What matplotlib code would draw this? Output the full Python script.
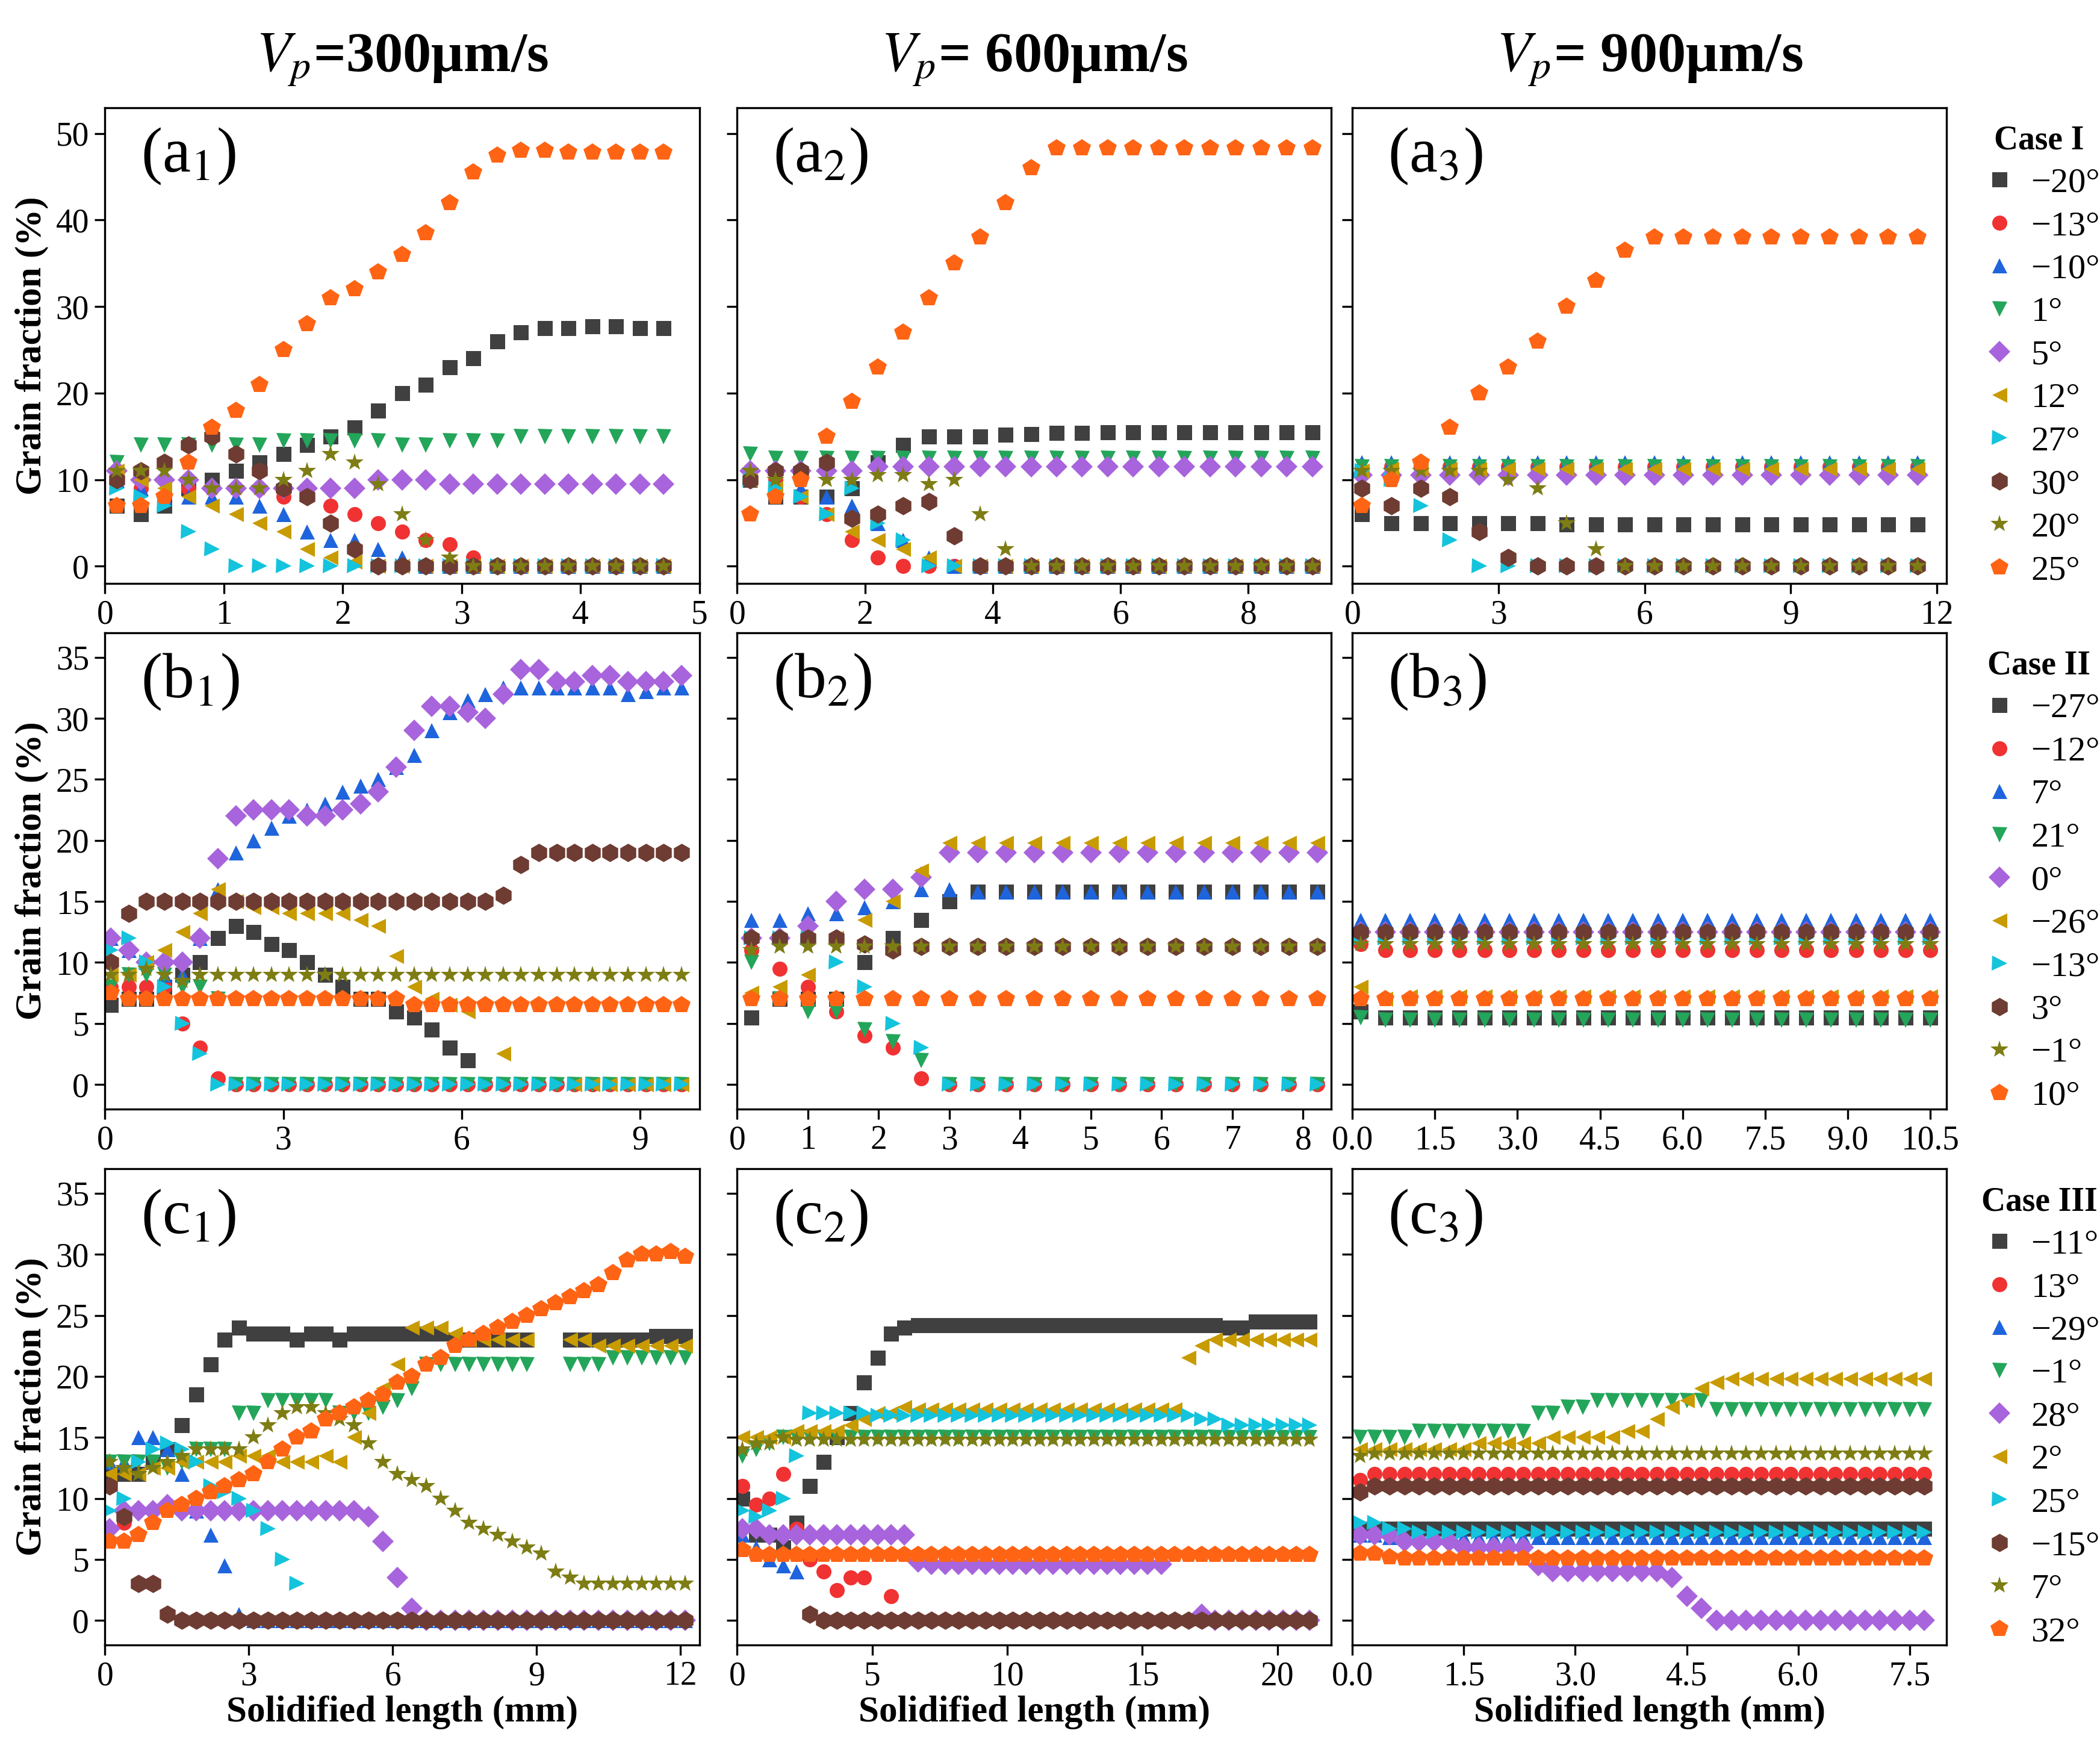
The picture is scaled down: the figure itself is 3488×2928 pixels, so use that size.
import numpy as np
import matplotlib
matplotlib.use("Agg")
from matplotlib import pyplot as plt

plt.rcParams['font.family'] = ['Liberation Serif', 'DejaVu Serif']
plt.rcParams['mathtext.fontset'] = 'stix'

N = np.nan
markers = ['s', 'o', '^', 'v', 'D', '<', '>', 'h', '*', 'p']
colors = ['#404040', '#f03232', '#1e64dc', '#23a55a', '#a864dc',
          '#c89b00', '#14c3dc', '#6e3c32', '#7d7d14', '#ff6414']

def pad(vals, n, fill=0.0):
    vals = list(vals)
    return vals + [fill] * (n - len(vals))

# ---------------- Case I ----------------
case1_labels = ['−20°', '−13°', '−10°', '1°', '5°', '12°', '27°', '30°', '20°', '25°']
x_a1 = np.arange(0.1, 4.75, 0.2)
n = len(x_a1)
y_a1 = [
    pad([7, 6, 7, 9, 10, 11, 12, 13, 14, 15, 16, 18, 20, 21, 23, 24, 26, 27, 27.5, 27.5, 27.7, 27.7, 27.5, 27.5], n),
    pad([10, 9, 8, 9, 9, 9, 9, 8, 8, 7, 6, 5, 4, 3, 2.5, 1], n),
    pad([10, 9, 8, 8, 8, 8, 7, 6, 4, 3, 3, 2, 1], n),
    pad([12, 14, 14, 14, 14, 14, 14, 14.5, 14.5, 14.5, 14.5, 14.5, 14, 14, 14.5, 14.5, 14.5, 15, 15, 15, 15, 15, 15, 15], n),
    pad([11, 10, 10, 10, 9, 9, 9, 9, 9, 9, 9, 10, 10, 10, 9.5, 9.5], n, 9.5),
    pad([11, 10, 9, 8, 7, 6, 5, 4, 2, 1, 0.5], n),
    pad([9, 8, 7, 4, 2], n),
    pad([10, 11, 12, 14, 15, 13, 11, 9, 8, 5, 2], n),
    pad([11, 11, 11, 10, 9, 9, 9, 10, 11, 13, 12, 9.5, 6, 3, 1], n),
    pad([7, 7, 8, 12, 16, 18, 21, 25, 28, 31, 32, 34, 36, 38.5, 42, 45.5, 47.5, 48, 48], n, 47.8),
]

x_a2 = np.arange(0.2, 9.05, 0.4)
n = len(x_a2)
y_a2 = [
    pad([10, 8, 8, 8, 9, 12, 14, 15, 15, 15, 15.2, 15.3, 15.4, 15.4], n, 15.5),
    pad([11, 10, 8, 6, 3, 1], n),
    pad([11, 10, 9, 8, 7, 5, 3, 1], n),
    pad([13], n, 12.5),
    pad([11, 11, 11, 11, 11], n, 11.5),
    pad([10, 9, 8, 6, 4, 3, 2, 1], n),
    pad([10, 9, 8, 6, 9, 5, 3], n),
    pad([10, 11, 11, 12, 5.5, 6, 7, 7.5, 3.5], n),
    pad([11, 10, 10, 10, 10, 10.5, 10.5, 9.5, 10, 6, 2], n),
    pad([6, 8, 10, 15, 19, 23, 27, 31, 35, 38, 42, 46], n, 48.3),
]

x_a3 = np.arange(0.2, 12.0, 0.6)
n = len(x_a3)
y_a3 = [
    pad([6, 5, 5, 5, 5, 5, 5], n, 4.8),
    pad([11], n, 11.5),
    pad([12], n, 12),
    pad([11.5], n, 11.5),
    pad([10.5], n, 10.5),
    pad([11], n, 11.2),
    pad([11, 10, 7, 3], n),
    pad([9, 7, 9, 8, 4, 1], n),
    pad([11, 11, 11, 11, 11, 10, 9, 5, 2], n),
    pad([7, 10, 12, 16, 20, 23, 26, 30, 33, 36.5], n, 38),
]

# ---------------- Case II ----------------
case2_labels = ['−27°', '−12°', '7°', '21°', '0°', '−26°', '−13°', '3°', '−1°', '10°']
x_b1 = np.arange(0.1, 9.8, 0.3)
n = len(x_b1)
y_b1 = [
    pad([6.5, 7, 7, 8, 9, 10, 12, 13, 12.5, 11.5, 11, 10, 9, 8, 7, 7, 6, 5.5, 4.5, 3, 2], n, N),
    pad([8, 8, 8, 8, 5, 3, 0.5], n),
    pad([12, 11, 10, 9, 9, 12, 16, 19, 20, 21, 22, 22.5, 23, 24, 24.5, 25, 26, 27, 29, 30.5, 31.5, 32, 32.5,
         32.5, 32.5, 32.5, 32.5, 32.5, 32.5, 32, 32.2, 32.5], n, 32.5),
    pad([8, 9, 9, 9, 8, 8, 7], n),
    pad([12, 11, 10, 10, 10, 12, 18.5, 22, 22.5, 22.5, 22.5, 22, 22, 22.5, 23, 24, 26, 29, 31, 31, 30.5, 30,
         32, 34, 34, 33, 33, 33.5, 33.5, 33, 33, 33], n, 33.5),
    pad([9, 9, 10, 11, 12.5, 14, 16, 15, 14.5, 14.5, 14, 14, 14, 14, 13.5, 13, 10.5, 8, 7, 6.5, 6, N, 2.5, N, N, N], n, 0),
    pad([11, 12, 10, 8, 5, 2.5], n),
    pad([10, 14, 15, 15, 15, 15, 15, 15, 15, 15, 15, 15, 15, 15, 15, 15, 15, 15, 15, 15, 15, 15, 15.5, 18], n, 19),
    pad([9, 9, 9.5, 9, 8.5], n, 9),
    pad([7.5] + [7] * 16, n, 6.5),
]

x_b2 = np.arange(0.2, 8.25, 0.4)
n = len(x_b2)
y_b2 = [
    pad([5.5, 7, 7, 7, 10, 12, 13.5, 15], n, 15.8),
    pad([11, 9.5, 8, 6, 4, 3, 0.5], n),
    pad([13.5, 13.5, 14, 14, 14.5, 15, 16, 16], n, 15.8),
    pad([10, 7, 6, 6, 4.5, 3.5, 2], n),
    pad([12, 12, 13, 15, 16, 16, 17], n, 19),
    pad([7.5, 8, 9, 12, 13.5, 15, 17.5], n, 19.8),
    pad([12, 12, 12, 10, 8, 5, 3], n),
    pad([12, 12, 12, 12, 11.5, 11], n, 11.3),
    pad([11], n, 11.3),
    pad([7], n, 7),
]

x_b3 = np.arange(0.15, 10.6, 0.45)
n = len(x_b3)
y_b3 = [
    pad([6], n, 5.5), pad([11.5], n, 11), pad([13.5], n, 13.5), pad([5.5], n, 5.3),
    pad([12.5], n, 12.5), pad([8, 7], n, 7.2), pad([12], n, 12), pad([12.5], n, 12.5),
    pad([11.5], n, 11.5), pad([7], n, 7),
]

# ---------------- Case III ----------------
case3_labels = ['−11°', '13°', '−29°', '−1°', '28°', '2°', '25°', '−15°', '7°', '32°']
x_c1 = np.arange(0.1, 12.2, 0.3)
n = len(x_c1)
y_c1 = [
    pad([12, 12, 12, 13, 14, 16, 18.5, 21, 23, 24, 23.5, 23.5, 23.5, 23, 23.5, 23.5, 23, 23.5, 23.5, 23.5,
         23.5, 23.5, 23.5, 23.5, 23, 23, 23, 23, 23, 23, N, N, 23, 23, 23, 23, 23, 23], n, 23.3),
    pad([11, 8, 3, 3, 0.5], n),
    pad([13, 13, 15, 15, 14, 12, 9, 7, 4.5, 0.5], n),
    pad([13, 13, 13, 13, 12.5, 13, 14, 14, 14, 17, 17, 18, 18, 18, 18, 18, 17, 17, 17, 17.5, 18, 19, 21, 21, 21,
         21, 21, 21, 21, 21, N, N, 21, 21, 21], n, 21.5),
    pad([7.5, 9, 9, 9, 9.5, 9, 9, 9, 9, 9, 9, 9, 9, 9, 9, 9, 9, 9, 8.5, 6.5, 3.5, 1], n),
    pad([12, 12, 12, 12.5, 12.5, 13, 13, 13, 13, 13.5, 13.5, 13.5, 13, 13, 13, 13.5, 13, 15, 17, 19, 21, 24,
         24, 24, 23.5, 23, 23, 23, 23, 23, N, N, 23, 23, 22.5, 22.5, 22.5], n, 22.5),
    pad([9, 10, 13, 14, 14.5, 14, 13, 11, 10.5, 10, 9, 7.5, 5, 3, N, N], n, N),
    pad([11, 8.5, 3, 3, 0.5], n),
    pad([13, 12.5, 12, 12.5, 13, 13.5, 14, 14, 14, 14, 15, 16, 17, 17.5, 17.5, 17, 16.5, 16, 14.5, 13, 12, 11.5,
         11, 10, 9, 8, 7.5, 7, 6.5, 6, 5.5, 4, 3.5, 3, 3, 3, 3], n, 3),
    pad([6.5, 6.5, 7, 8, 9, 9.5, 10, 10.5, 11, 11.5, 12, 13, 14, 15, 15.5, 16.5, 17, 17.5, 18, 18.5, 19.5, 20,
         21, 21.5, 22.5, 23, 23.5, 24, 24.5, 25, 25.5, 26, 26.5, 27, 27.5, 28.5, 29.5, 30, 30, 30.2], n, 29.8),
]

x_c2 = np.arange(0.2, 21.7, 0.5)
n = len(x_c2)
y_c2 = [
    pad([10, 7, 7, 6, 8, 11, 13, 15, 17, 19.5, 21.5, 23.5, 24, 24.2], n, 24.2),
    pad([11, 9.5, 10, 12, 7.5, 5, 4, 2.5, 3.5, 3.5, N, 2], n, N),
    pad([7, 6, 5, 4.5, 4], n, N),
    pad([13.5, 14, 14.5, 15, 15, 15, 15, 15, 15], n, 15),
    pad([7.5, 7.5, 7, 7, 7, 7, 7, 7, 7, 7, 7, 7, 7, 4.8], n, 4.6),
    pad([15, 15, 15, 15, 15.5, 15.5, 15.5, 15.5, 16, 16.5, 17, 17, 17.5], n, 17.3),
    pad([9, 8.5, 9, 10, 13.5, 17, 17, 17, 17, 17], n, 16.8),
    pad([13, 11, 8, 6, 4, 0.5], n),
    pad([14, 14.5, 14.5, 15], n, 14.8),
    pad([5.8], n, 5.4),
]
y_c2[5][33:] = [21.5, 22.5, 23, 23, 23, 23, 23, 23, 23, 23, 23][:n - 33]
y_c2[0][36:] = [24, 24, 24.5, 24.5, 24.5, 24.5, 24.5, 24.5, 24.5][:n - 36]
y_c2[6][34:] = [16.5, 16.5, 16, 16, 16, 16, 16, 16, 16][:n - 34]
y_c2[4][32:] = [N, N, 0.5, 0, 0, 0, 0, 0, 0, 0, 0, 0][:n - 32]
y_c2[7][:5] = [N, N, N, N, N]

x_c3 = np.arange(0.1, 7.8, 0.2)
n = len(x_c3)
y_c3 = [
    pad([7.5], n, 7.5),
    pad([11.5], n, 12),
    pad([7, 7], n, 6.8),
    pad([15, 15, 15, 15, 15.5, 15.5, 15.5, 15.5, 15.5, 15.5, 15.5, 15.5, 17, 17, 17.5, 17.5, 18, 18, 18, 18,
         18, 18, 18, 18], n, 17.3),
    pad([7, 7, 7, 6.5, 6.5, 6.5, 6.5, 6, 6, 6, 6, 6, 4.5, 4, 4, 4, 4, 4, 4, 4, 4, 3.5, 2, 1, 0], n, 0),
    pad([14, 14, 14, 14, 14, 14, 14, 14, 14.5, 14.5, 14.5, 14.5, 14.5, 15, 15, 15, 15, 15, 15.5, 15.5, 16.5,
         17.5, 18, 19, 19.5], n, 19.8),
    pad([8, 8, 7.5, 7.5], n, 7.2),
    pad([10.5], n, 11),
    pad([13.5], n, 13.7),
    pad([5.5, 5.5, 5.2], n, 5.1),
]

panels = [
    [(x_a1, y_a1), (x_a2, y_a2), (x_a3, y_a3)],
    [(x_b1, y_b1), (x_b2, y_b2), (x_b3, y_b3)],
    [(x_c1, y_c1), (x_c2, y_c2), (x_c3, y_c3)],
]
row_labels = [case1_labels, case2_labels, case3_labels]
case_titles = ['Case I', 'Case II', 'Case III']
letters = ['a', 'b', 'c']
col_titles = ['$\\boldsymbol{V_p}$=300μm/s', '$\\boldsymbol{V_p}$= 600μm/s', '$\\boldsymbol{V_p}$= 900μm/s']

xlims = [[(0, 5), (0, 9.3), (0, 12.2)], [(0, 10), (0, 8.4), (0, 10.8)], [(0, 12.4), (0, 22), (0, 8.0)]]
xticks = [[np.arange(0, 6, 1), np.arange(0, 10, 2), np.arange(0, 13, 3)],
          [np.arange(0, 10, 3), np.arange(0, 9, 1), np.arange(0, 10.6, 1.5)],
          [np.arange(0, 13, 3), np.arange(0, 21, 5), np.arange(0, 7.6, 1.5)]]
ylims = [(-2, 53), (-2, 37), (-2, 37)]
yticks = [np.arange(0, 51, 10), np.arange(0, 36, 5), np.arange(0, 36, 5)]

fig = plt.figure(figsize=(17.44, 14.64), dpi=200)
lefts = [0.050, 0.351, 0.644]
w = 0.283
bottoms = [0.669, 0.371, 0.067]
h = 0.270

for r in range(3):
    for c in range(3):
        ax = fig.add_axes([lefts[c], bottoms[r], w, h])
        x, ys = panels[r][c]
        handles = []
        for k, y in enumerate(ys):
            hd, = ax.plot(x, y, linestyle='none', marker=markers[k], color=colors[k],
                          markersize=11 if markers[k] in ('*', 'h', 'p') else 9, markeredgewidth=0)
            handles.append(hd)
        ax.set_xlim(*xlims[r][c])
        ax.set_ylim(*ylims[r])
        ax.set_xticks(xticks[r][c])
        ax.set_yticks(yticks[r])
        if r == 1 and c == 2 or r == 2 and c == 2:
            ax.set_xticklabels(['%.1f' % t for t in xticks[r][c]])
        ax.tick_params(labelsize=20, direction='out', length=6, width=1.2)
        if c > 0:
            ax.set_yticklabels([])
        else:
            ax.set_ylabel('Grain fraction (%)', fontsize=22, fontweight='bold')
        if r == 2:
            ax.set_xlabel('Solidified length (mm)', fontsize=22, fontweight='bold', labelpad=2)
        if r == 0:
            ax.set_title(col_titles[c], fontsize=34, fontweight='bold', pad=22)
        for s in ax.spines.values():
            s.set_linewidth(1.2)
        ax.text(0.06, 0.96, '(%s$_{%d}$)' % (letters[r], c + 1), transform=ax.transAxes,
                fontsize=38, va='top', ha='left')
        if c == 2:
            leg = ax.legend(handles, row_labels[r], loc='upper left', bbox_to_anchor=(1.0, 1.03),
                            frameon=False, fontsize=21, title=case_titles[r], handletextpad=0.3,
                            labelspacing=0.32, handlelength=1.2)
            leg.get_title().set_fontweight('bold')
            leg.get_title().set_fontsize(20)

fig.savefig('out.png', dpi=200)
